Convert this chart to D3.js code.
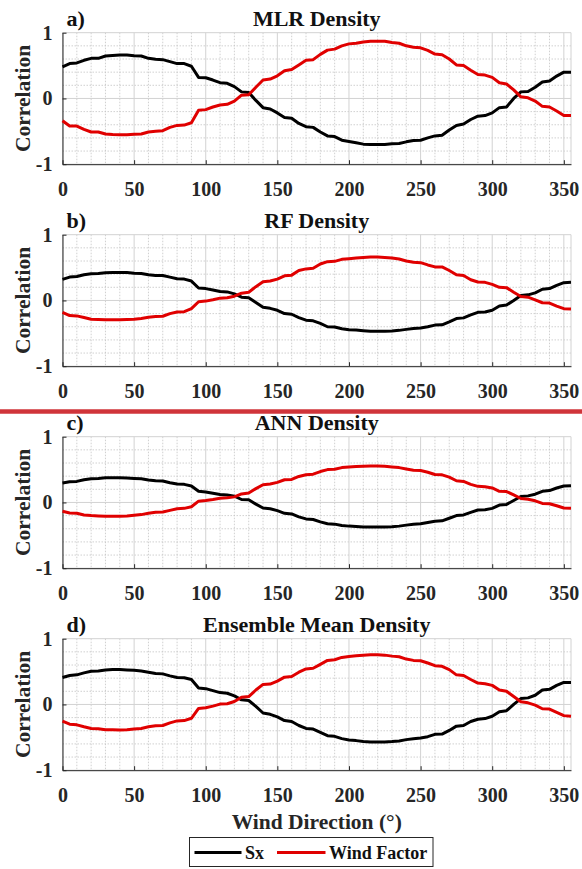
<!DOCTYPE html>
<html>
<head>
<meta charset="utf-8">
<script src="https://cdn.jsdelivr.net/npm/d3@7"></script>
<style>
  html, body { margin: 0; padding: 0; background: #fff; }
  svg { display: block; font-family: "Liberation Serif", "Times New Roman", serif; font-weight: bold; }
</style>
</head>
<body>
<svg id="chart" width="582" height="869"></svg>
<script>
// ---------------- DATA ----------------
const windDirection = [0,5,10,15,20,25,30,35,40,45,50,55,60,65,70,75,80,85,90,95,100,105,110,115,120,125,130,135,140,145,150,155,160,165,170,175,180,185,190,195,200,205,210,215,220,225,230,235,240,245,250,255,260,265,270,275,280,285,290,295,300,305,310,315,320,325,330,335,340,345,350,355];

const sxMLR = [0.48,0.53,0.54,0.58,0.61,0.61,0.645,0.655,0.66,0.66,0.65,0.645,0.61,0.595,0.59,0.56,0.53,0.53,0.49,0.32,0.315,0.28,0.24,0.23,0.18,0.10,0.09,-0.03,-0.14,-0.16,-0.22,-0.29,-0.30,-0.38,-0.43,-0.44,-0.51,-0.57,-0.58,-0.635,-0.655,-0.675,-0.695,-0.70,-0.70,-0.70,-0.69,-0.685,-0.66,-0.64,-0.635,-0.60,-0.57,-0.56,-0.48,-0.41,-0.39,-0.32,-0.27,-0.26,-0.22,-0.14,-0.13,0.0,0.10,0.105,0.17,0.25,0.265,0.34,0.40,0.40];
const wfMLR = [-0.34,-0.42,-0.42,-0.47,-0.51,-0.51,-0.54,-0.55,-0.553,-0.553,-0.545,-0.54,-0.51,-0.50,-0.49,-0.44,-0.41,-0.405,-0.37,-0.18,-0.17,-0.13,-0.10,-0.09,-0.04,0.05,0.055,0.17,0.28,0.295,0.345,0.42,0.44,0.51,0.58,0.59,0.67,0.735,0.75,0.80,0.83,0.84,0.86,0.87,0.87,0.87,0.85,0.84,0.80,0.78,0.77,0.73,0.675,0.665,0.60,0.51,0.50,0.43,0.365,0.355,0.32,0.24,0.22,0.13,0.025,0.01,-0.04,-0.12,-0.13,-0.19,-0.26,-0.26];

const sxRF = [0.32,0.355,0.365,0.39,0.405,0.41,0.42,0.425,0.425,0.425,0.415,0.41,0.39,0.38,0.38,0.355,0.33,0.325,0.295,0.19,0.18,0.16,0.135,0.13,0.10,0.05,0.04,-0.03,-0.105,-0.12,-0.15,-0.20,-0.21,-0.26,-0.30,-0.31,-0.35,-0.40,-0.405,-0.43,-0.445,-0.45,-0.46,-0.47,-0.47,-0.47,-0.465,-0.455,-0.44,-0.425,-0.42,-0.40,-0.375,-0.37,-0.325,-0.275,-0.265,-0.22,-0.18,-0.175,-0.15,-0.085,-0.07,0.0,0.075,0.085,0.115,0.17,0.18,0.23,0.27,0.275];
const wfRF = [-0.18,-0.23,-0.235,-0.26,-0.285,-0.29,-0.295,-0.295,-0.295,-0.29,-0.285,-0.275,-0.255,-0.245,-0.24,-0.20,-0.175,-0.17,-0.125,-0.02,-0.01,0.01,0.035,0.04,0.065,0.11,0.125,0.21,0.285,0.295,0.325,0.375,0.385,0.455,0.48,0.49,0.555,0.59,0.595,0.625,0.635,0.645,0.655,0.66,0.66,0.655,0.645,0.63,0.60,0.58,0.575,0.54,0.51,0.51,0.455,0.39,0.38,0.315,0.28,0.275,0.245,0.20,0.195,0.125,0.06,0.05,0.01,-0.035,-0.04,-0.085,-0.125,-0.13];

const sxANN = [0.295,0.315,0.32,0.345,0.36,0.365,0.375,0.375,0.375,0.37,0.365,0.36,0.34,0.33,0.325,0.30,0.28,0.275,0.25,0.17,0.16,0.14,0.12,0.115,0.095,0.045,0.04,-0.025,-0.085,-0.095,-0.125,-0.165,-0.175,-0.22,-0.25,-0.26,-0.295,-0.325,-0.33,-0.35,-0.36,-0.365,-0.375,-0.375,-0.375,-0.375,-0.37,-0.36,-0.345,-0.33,-0.325,-0.305,-0.285,-0.28,-0.24,-0.20,-0.19,-0.15,-0.115,-0.11,-0.09,-0.04,-0.03,0.03,0.09,0.10,0.125,0.17,0.18,0.22,0.25,0.255];
const wfANN = [-0.135,-0.16,-0.165,-0.19,-0.20,-0.205,-0.21,-0.21,-0.21,-0.205,-0.195,-0.185,-0.165,-0.15,-0.145,-0.12,-0.095,-0.09,-0.065,0.02,0.03,0.045,0.065,0.07,0.085,0.13,0.145,0.21,0.27,0.28,0.305,0.345,0.35,0.395,0.42,0.43,0.47,0.50,0.505,0.53,0.54,0.545,0.55,0.555,0.555,0.55,0.54,0.53,0.51,0.49,0.485,0.46,0.425,0.42,0.385,0.33,0.32,0.275,0.245,0.24,0.22,0.17,0.165,0.115,0.06,0.05,0.025,-0.015,-0.02,-0.05,-0.085,-0.09];

const sxEns = [0.41,0.44,0.45,0.48,0.505,0.51,0.525,0.53,0.53,0.525,0.52,0.51,0.49,0.47,0.465,0.435,0.41,0.405,0.38,0.25,0.24,0.21,0.18,0.17,0.13,0.07,0.06,-0.03,-0.13,-0.15,-0.19,-0.245,-0.26,-0.32,-0.365,-0.375,-0.425,-0.475,-0.485,-0.52,-0.54,-0.55,-0.565,-0.57,-0.57,-0.57,-0.565,-0.555,-0.535,-0.52,-0.51,-0.49,-0.455,-0.45,-0.395,-0.33,-0.32,-0.26,-0.225,-0.215,-0.18,-0.11,-0.095,0.0,0.09,0.10,0.14,0.22,0.23,0.29,0.335,0.335];
const wfEns = [-0.255,-0.30,-0.31,-0.34,-0.365,-0.37,-0.385,-0.385,-0.39,-0.385,-0.375,-0.365,-0.34,-0.325,-0.32,-0.28,-0.25,-0.245,-0.21,-0.06,-0.05,-0.025,0.005,0.01,0.045,0.11,0.12,0.22,0.305,0.31,0.355,0.415,0.425,0.49,0.54,0.55,0.61,0.67,0.68,0.715,0.73,0.74,0.75,0.755,0.755,0.75,0.735,0.725,0.69,0.67,0.665,0.63,0.59,0.58,0.53,0.45,0.44,0.38,0.325,0.315,0.29,0.22,0.20,0.12,0.04,0.025,-0.01,-0.065,-0.07,-0.12,-0.17,-0.18];

const panelLetters = ["a)", "b)", "c)", "d)"];
const panelTitles = ["MLR Density", "RF Density", "ANN Density", "Ensemble Mean Density"];
const sxSeries = [sxMLR, sxRF, sxANN, sxEns];
const wfSeries = [wfMLR, wfRF, wfANN, wfEns];
const seriesNames = ["Sx", "Wind Factor"];
const seriesColors = ["#000000", "#e00000"];
const xTickValues = [0, 50, 100, 150, 200, 250, 300, 350];
const yTickValues = [-1, 0, 1];
const xMinorGrid = [10,20,30,40,60,70,80,90,110,120,130,140,160,170,180,190,210,220,230,240,260,270,280,290,310,320,330,340];
const yMinorGrid = [-0.8,-0.6,-0.4,-0.2,0.2,0.4,0.6,0.8];
const xDomain = [0, 355];
const yDomain = [-1, 1];
const xLabel = "Wind Direction (°)";
const yLabel = "Correlation";

// ---------------- LAYOUT ----------------
const svg = d3.select("#chart");
const plotLeft = 62.5, plotRight = 571;
const plotTop0 = 32.7, panelStep = 202, plotH = 131.5;
const axisColor = "#262626";

const x = d3.scaleLinear().domain(xDomain).range([plotLeft, plotRight]);

panelTitles.forEach((title, i) => {
  const top = plotTop0 + panelStep * i;
  const bottom = top + plotH;
  const y = d3.scaleLinear().domain(yDomain).range([bottom, top]);
  const g = svg.append("g");

  // minor grid (dotted)
  g.append("g").selectAll("line").data(xMinorGrid).join("line")
    .attr("x1", d => x(d)).attr("x2", d => x(d))
    .attr("y1", top).attr("y2", bottom)
    .attr("stroke", "#c4c4c4").attr("stroke-width", 0.8).attr("stroke-dasharray", "1.5,1.5");
  g.append("g").selectAll("line").data(yMinorGrid).join("line")
    .attr("x1", plotLeft).attr("x2", plotRight)
    .attr("y1", d => y(d)).attr("y2", d => y(d))
    .attr("stroke", "#c4c4c4").attr("stroke-width", 0.8).attr("stroke-dasharray", "1.5,1.5");
  // major grid
  g.append("g").selectAll("line").data(xTickValues.concat([355])).join("line")
    .attr("x1", d => x(d)).attr("x2", d => x(d))
    .attr("y1", top).attr("y2", bottom)
    .attr("stroke", "#d2d2d2").attr("stroke-width", 1);
  g.append("g").selectAll("line").data(yTickValues).join("line")
    .attr("x1", plotLeft).attr("x2", plotRight)
    .attr("y1", d => y(d)).attr("y2", d => y(d))
    .attr("stroke", "#d2d2d2").attr("stroke-width", 1);

  // axes
  const xAxis = d3.axisBottom(x).tickValues(xTickValues).tickSizeInner(-4).tickSizeOuter(0).tickPadding(18);
  const gx = g.append("g").attr("transform", `translate(0,${bottom})`).call(xAxis);
  gx.select(".domain").attr("stroke", axisColor).attr("stroke-width", 1);
  gx.selectAll(".tick line").attr("stroke", axisColor);
  gx.selectAll(".tick text").attr("font-size", 20).attr("font-family", "Liberation Serif").attr("font-weight", "bold").attr("fill", "#262626");

  const yAxis = d3.axisLeft(y).tickValues(yTickValues).tickSizeInner(-4).tickSizeOuter(0).tickPadding(10).tickFormat(d3.format("d"));
  const gy = g.append("g").attr("transform", `translate(${plotLeft},0)`).call(yAxis);
  gy.select(".domain").attr("stroke", axisColor).attr("stroke-width", 1);
  gy.selectAll(".tick line").attr("stroke", axisColor);
  gy.selectAll(".tick text").attr("font-size", 20).attr("font-family", "Liberation Serif").attr("font-weight", "bold").attr("fill", "#262626")
    .text(d => d < 0 ? "-" + Math.abs(d) : d);

  // lines
  const line = d3.line().x((d, k) => x(windDirection[k])).y(d => y(d));
  [sxSeries[i], wfSeries[i]].forEach((s, si) => {
    g.append("path").datum(s).attr("d", line)
      .attr("fill", "none").attr("stroke", seriesColors[si]).attr("stroke-width", 3)
      .attr("stroke-linejoin", "round");
  });

  // titles
  g.append("text").attr("x", (plotLeft + plotRight) / 2).attr("y", top - 6.5)
    .attr("text-anchor", "middle").attr("font-size", 22).attr("fill", "#111").text(title);
  g.append("text").attr("x", 66.5).attr("y", top - 6.5)
    .attr("font-size", 22).attr("fill", "#111").text(panelLetters[i]);

  // y label
  g.append("text").attr("transform", `translate(30,${(top + bottom) / 2}) rotate(-90)`)
    .attr("text-anchor", "middle").attr("font-size", 21.5).attr("fill", "#262626").text(yLabel);
});

// red separator
svg.append("line").attr("x1", 0).attr("x2", 582).attr("y1", 411.5).attr("y2", 411.5)
  .attr("stroke", "#d0343a").attr("stroke-width", 4.5);

// x label
svg.append("text").attr("x", (plotLeft + plotRight) / 2).attr("y", 829)
  .attr("text-anchor", "middle").attr("font-size", 21.5).attr("fill", "#262626").text(xLabel);

// legend
const lg = svg.append("g");
lg.append("rect").attr("x", 189.5).attr("y", 837.5).attr("width", 243.5).attr("height", 29)
  .attr("fill", "#fff").attr("stroke", "#262626").attr("stroke-width", 1);
const legendItems = [
  { name: seriesNames[0], color: seriesColors[0], x1: 194.5, x2: 241.5, tx: 245 },
  { name: seriesNames[1], color: seriesColors[1], x1: 277, x2: 325.5, tx: 329 }
];
legendItems.forEach(it => {
  lg.append("line").attr("x1", it.x1).attr("x2", it.x2).attr("y1", 852.5).attr("y2", 852.5)
    .attr("stroke", it.color).attr("stroke-width", 3);
  lg.append("text").attr("x", it.tx).attr("y", 859).attr("font-size", 18).attr("fill", "#111").text(it.name);
});
</script>
</body>
</html>
